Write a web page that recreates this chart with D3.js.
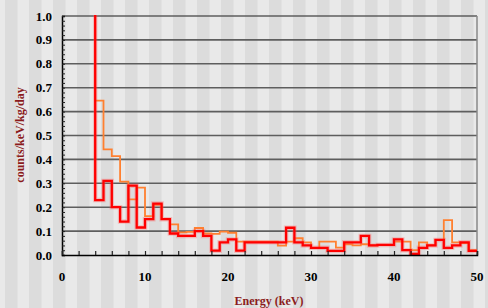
<!DOCTYPE html>
<html>
<head>
<meta charset="utf-8">
<script src="https://cdn.jsdelivr.net/npm/d3@7"></script>
<style>
  html, body { margin: 0; padding: 0; background: #e9e9e9; }
  svg { display: block; }
</style>
</head>
<body>
<div class="chart"></div>
<script>
// bin lower edges (keV), 1 keV wide bins from 4 to 50
const binStart = d3.range(4, 50);
// red spectrum
const redValues = [0.23, 0.31, 0.20, 0.14, 0.29, 0.115, 0.15, 0.215, 0.15, 0.09,
  0.08, 0.08, 0.10, 0.08, 0.018, 0.053, 0.065, 0.018, 0.053, 0.053,
  0.053, 0.053, 0.053, 0.114, 0.053, 0.04, 0.03, 0.03, 0.017, 0.017,
  0.053, 0.053, 0.08, 0.04, 0.042, 0.042, 0.065, 0.02, 0.005, 0.03,
  0.04, 0.063, 0.03, 0.04, 0.053, 0.017];
// red spike at threshold runs off the top of the plot
const redSpikeTop = 1.2;
// orange spectrum
const orangeValues = [0.646, 0.442, 0.414, 0.307, 0.233, 0.282, 0.163, 0.21, 0.15, 0.128,
  0.095, 0.097, 0.113, 0.09, 0.088, 0.098, 0.093, 0.056, 0.056, 0.056,
  0.056, 0.056, 0.039, 0.056, 0.07, 0.053, 0.03, 0.056, 0.056, 0.031,
  0.045, 0.04, 0.045, 0.04, 0.042, 0.042, 0.056, 0.056, 0.02, 0.053,
  0.04, 0.063, 0.146, 0.053, 0.05, 0.02];
const xTicks = [0, 10, 20, 30, 40, 50];
const yTicks = [0, 0.1, 0.2, 0.3, 0.4, 0.5, 0.6, 0.7, 0.8, 0.9, 1.0];

const width = 488;
const height = 308;
const margin = { top: 16, right: 11, bottom: 53, left: 62 };
const titleColor = '#8b1c1c';

const svg = d3.select('.chart')
  .append('svg')
  .attr('width', width)
  .attr('height', height);

// vertical stripe background
const defs = svg.append('defs');
const pat = defs.append('pattern')
  .attr('id', 'stripes')
  .attr('patternUnits', 'userSpaceOnUse')
  .attr('x', 5)
  .attr('width', 24)
  .attr('height', 10);
pat.append('rect').attr('width', 24).attr('height', 10).attr('fill', '#e9e9e9');
pat.append('rect').attr('width', 12.5).attr('height', 10).attr('fill', '#dcdcdc');
svg.append('rect')
  .attr('width', width)
  .attr('height', height)
  .attr('fill', 'url(#stripes)');

const x = d3.scaleLinear()
  .domain([0, 50])
  .range([margin.left, width - margin.right]);
const y = d3.scaleLinear()
  .domain([0, 1])
  .range([height - margin.bottom, margin.top]);

defs.append('clipPath')
  .attr('id', 'plotclip')
  .append('rect')
  .attr('x', x(0))
  .attr('y', y(1) - 1)
  .attr('width', x(50) - x(0))
  .attr('height', y(0) - y(1) + 1);

// gridlines
svg.append('g')
  .selectAll('line')
  .data(yTicks.filter(d => d > 0))
  .enter()
    .append('line')
    .attr('x1', x(0))
    .attr('x2', x(50))
    .attr('y1', d => y(d))
    .attr('y2', d => y(d))
    .attr('stroke', '#5e5e5e')
    .attr('stroke-width', 1.6);

// right border
svg.append('line')
  .attr('x1', x(50)).attr('x2', x(50))
  .attr('y1', y(1)).attr('y2', y(0))
  .attr('stroke', '#888')
  .attr('stroke-width', 1.5);

// step points: one per bin plus the closing edge at 50 keV
function stepPoints(values) {
  const pts = values.map((v, i) => [binStart[i], v]);
  pts.push([50, values[values.length - 1]]);
  return pts;
}
const stepLine = d3.line()
  .x(d => x(d[0]))
  .y(d => y(d[1]))
  .curve(d3.curveStepAfter);

const redPts = [[binStart[0], redSpikeTop]].concat(stepPoints(redValues));

const plot = svg.append('g').attr('clip-path', 'url(#plotclip)');

plot.append('path')
  .datum(stepPoints(orangeValues))
  .attr('d', stepLine)
  .attr('fill', 'none')
  .attr('stroke', '#ff8030')
  .attr('stroke-width', 1.8);

// soft halo under the red line
plot.append('path')
  .datum(redPts)
  .attr('d', stepLine)
  .attr('fill', 'none')
  .attr('stroke', 'rgba(255,90,90,0.3)')
  .attr('stroke-width', 4.5);

plot.append('path')
  .datum(redPts)
  .attr('d', stepLine)
  .attr('fill', 'none')
  .attr('stroke', '#ff0000')
  .attr('stroke-width', 2.3);

// axes
const yAxis = d3.axisRight(y)
  .tickValues(d3.range(0, 1.001, 0.02))
  .tickSize(3)
  .tickFormat('');
svg.append('g')
  .attr('transform', `translate(${x(0)},0)`)
  .call(yAxis)
  .call(g => g.select('.domain').attr('stroke', '#000').attr('stroke-width', 1.5))
  .call(g => g.selectAll('.tick line').attr('stroke', '#222').attr('stroke-width', 1));

const xAxis = d3.axisTop(x)
  .tickValues(d3.range(0, 50.1, 2))
  .tickSize(4)
  .tickFormat('');
svg.append('g')
  .attr('transform', `translate(0,${y(0)})`)
  .call(xAxis)
  .call(g => g.select('.domain').attr('stroke', '#000').attr('stroke-width', 1.5))
  .call(g => g.selectAll('.tick line').attr('stroke', '#222').attr('stroke-width', 1.2));

// tick labels
svg.append('g')
  .selectAll('text')
  .data(yTicks)
  .enter()
    .append('text')
    .attr('x', 52)
    .attr('y', d => y(d))
    .attr('dy', '0.35em')
    .attr('text-anchor', 'end')
    .attr('font-family', 'Liberation Serif, serif')
    .attr('font-weight', 'bold')
    .attr('font-size', 13)
    .text(d => d.toFixed(1));

svg.append('g')
  .selectAll('text')
  .data(xTicks)
  .enter()
    .append('text')
    .attr('x', d => x(d))
    .attr('y', 281)
    .attr('text-anchor', 'middle')
    .attr('font-family', 'Liberation Serif, serif')
    .attr('font-weight', 'bold')
    .attr('font-size', 13)
    .text(d => d);

// titles
svg.append('text')
  .attr('transform', 'translate(24,135) rotate(-90)')
  .attr('text-anchor', 'middle')
  .attr('font-family', 'Liberation Serif, serif')
  .attr('font-weight', 'bold')
  .attr('font-size', 12)
  .attr('fill', titleColor)
  .text('counts/keV/kg/day');

svg.append('text')
  .attr('x', 269)
  .attr('y', 305)
  .attr('text-anchor', 'middle')
  .attr('font-family', 'Liberation Serif, serif')
  .attr('font-weight', 'bold')
  .attr('font-size', 12)
  .attr('fill', titleColor)
  .text('Energy (keV)');
</script>
</body>
</html>
